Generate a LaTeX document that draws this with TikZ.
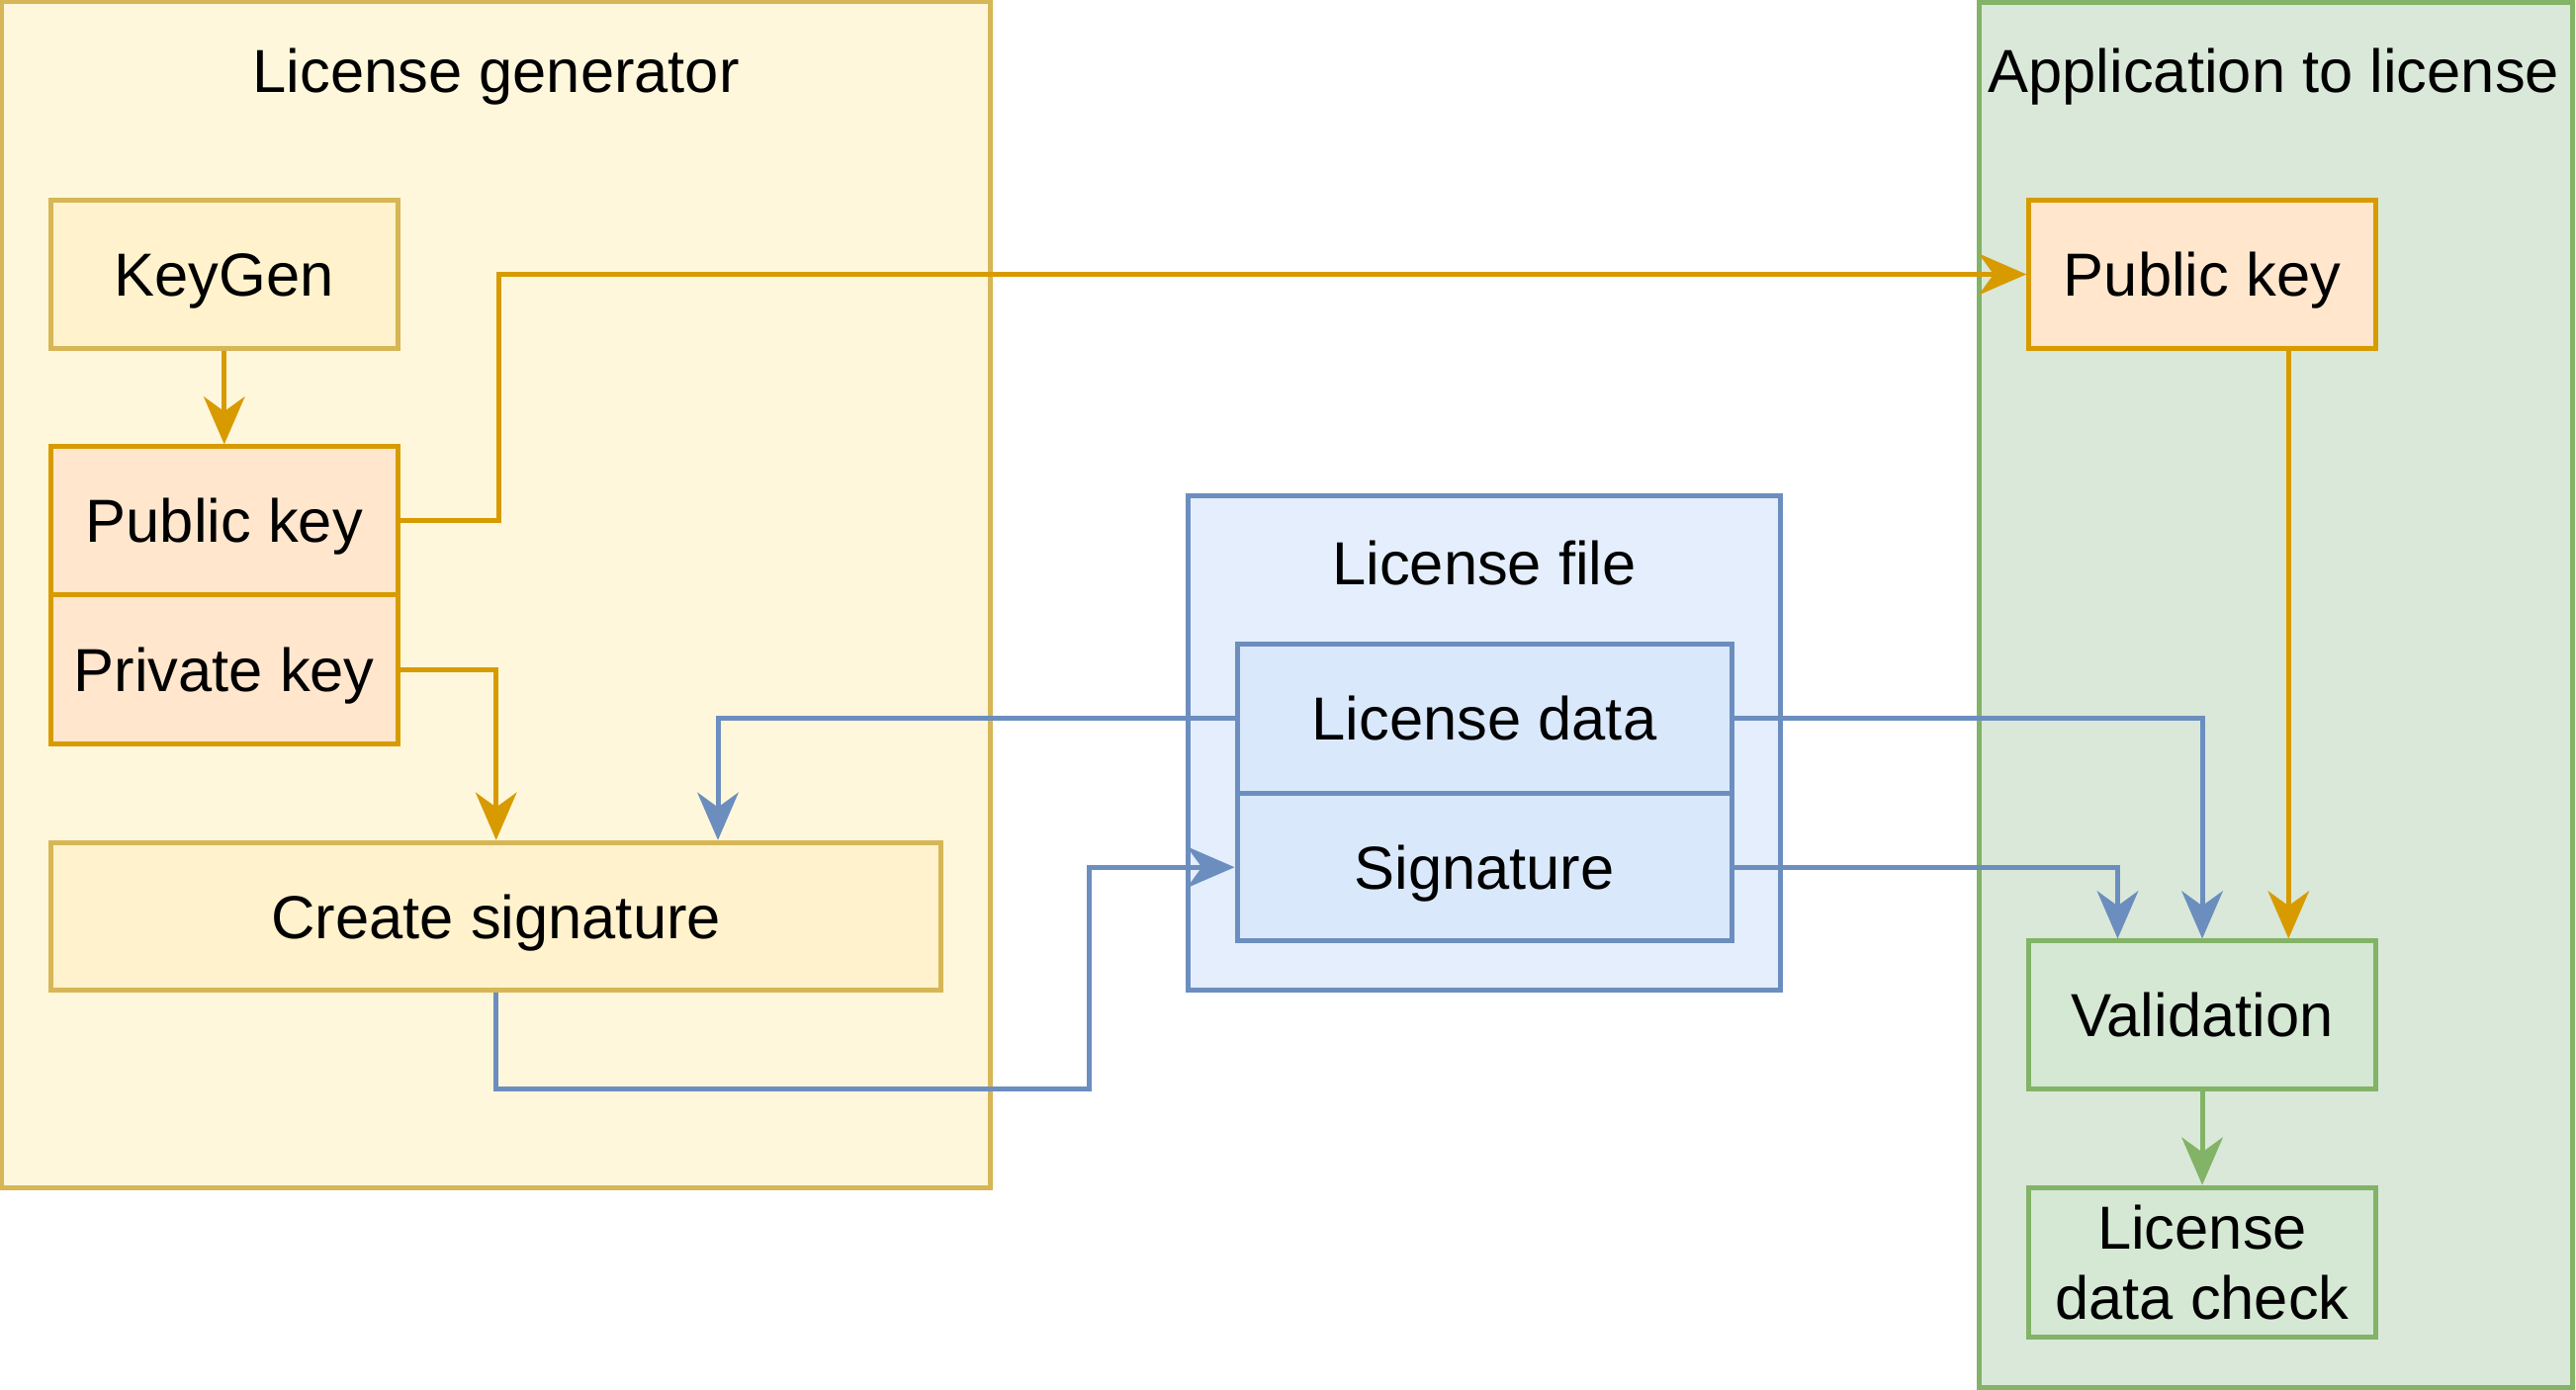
\documentclass[tikz,border=0pt]{standalone}
\usepackage{fontspec}
\setmainfont{Liberation Sans}
\usetikzlibrary{arrows.meta}
\definecolor{yfill}{HTML}{FFF2CC}
\definecolor{ystroke}{HTML}{D6B656}
\definecolor{ycont}{HTML}{FFF7DB}
\definecolor{ofill}{HTML}{FFE6CC}
\definecolor{ostroke}{HTML}{D79B00}
\definecolor{gfill}{HTML}{D5E8D4}
\definecolor{gcont}{HTML}{DAE8D9}
\definecolor{gstroke}{HTML}{82B366}
\definecolor{bfill}{HTML}{DAE8FC}
\definecolor{bcont}{HTML}{E4EEFC}
\definecolor{bstroke}{HTML}{6C8EBF}
\tikzset{
  box/.style={draw, line width=3pt, rectangle, inner sep=0pt, align=center,
    font=\fontsize{37}{43}\selectfont, text height=26.5pt, text depth=0pt},
  ybox/.style={box, fill=yfill, draw=ystroke},
  obox/.style={box, fill=ofill, draw=ostroke},
  gbox/.style={box, fill=gfill, draw=gstroke},
  bbox/.style={box, fill=bfill, draw=bstroke},
  cont/.style={draw, line width=3pt, rectangle, inner sep=0pt},
  title/.style={inner sep=0pt, font=\fontsize{37}{43}\selectfont, text height=26.5pt, text depth=0pt},
  conn/.style={line width=3pt, -{Stealth[length=29pt, width=25pt, inset=9pt]}},
  oarr/.style={conn, draw=ostroke},
  barr/.style={conn, draw=bstroke},
  garr/.style={conn, draw=gstroke},
}
\begin{document}
\begin{tikzpicture}[x=1pt,y=-1pt]
\useasboundingbox (0,0) rectangle (1568,846);
% containers
\node[cont, fill=ycont, draw=ystroke, minimum width=602pt, minimum height=722pt] (lg) at (302,362) {};
\node[cont, fill=gcont, draw=gstroke, minimum width=361pt, minimum height=843pt] (app) at (1385.5,423) {};
\node[cont, fill=bcont, draw=bstroke, minimum width=361pt, minimum height=301pt] (lf) at (903.5,452.5) {};
\node[title] (lgt) at (302,43) {License generator};
\node[title] (appt) at (1384,43) {Application to license};
\node[title] (lft) at (903.5,343) {License file};
% nodes
\node[ybox, minimum width=211pt, minimum height=90pt] (kg) at (136.5,167) {KeyGen};
\node[obox, minimum width=211pt, minimum height=90pt] (pub1) at (136.5,317) {Public key};
\node[obox, minimum width=211pt, minimum height=91pt] (priv) at (136.5,407.5) {Private key};
\node[ybox, minimum width=542pt, minimum height=90pt] (cs) at (302,558) {Create signature};
\node[obox, minimum width=211pt, minimum height=90pt] (pub2) at (1340.5,167) {Public key};
\node[gbox, minimum width=211pt, minimum height=90pt] (val) at (1340.5,618) {Validation};
\node[gbox, minimum width=211pt, minimum height=91pt, text height=, text depth=] (ldc) at (1340.5,768.5) {License\\data check};
\node[bbox, minimum width=301pt, minimum height=91pt] (ld) at (903.5,437.5) {License data};
\node[bbox, minimum width=301pt, minimum height=90pt] (sig) at (903.5,528) {Signature};
\coordinate (c1) at (663,663);
% connectors
\draw[oarr] (kg.south) -- (pub1.north);
\draw[oarr] (pub1.east) -- ++(60,0) |- (pub2.west);
\draw[oarr] (priv.east) -| (cs.north);
\draw[barr] (ld.west) -| ([xshift=135pt]cs.north);
\draw[barr] (cs.south) |- (c1) |- (sig.west);
\draw[barr] (ld.east) -| (val.north);
\draw[barr] (sig.east) -| ([xshift=-51.5pt]val.north);
\draw[oarr] ([xshift=52.5pt]pub2.south) -- ([xshift=52.5pt]val.north);
\draw[garr] (val.south) -- (ldc.north);
\end{tikzpicture}
\end{document}
